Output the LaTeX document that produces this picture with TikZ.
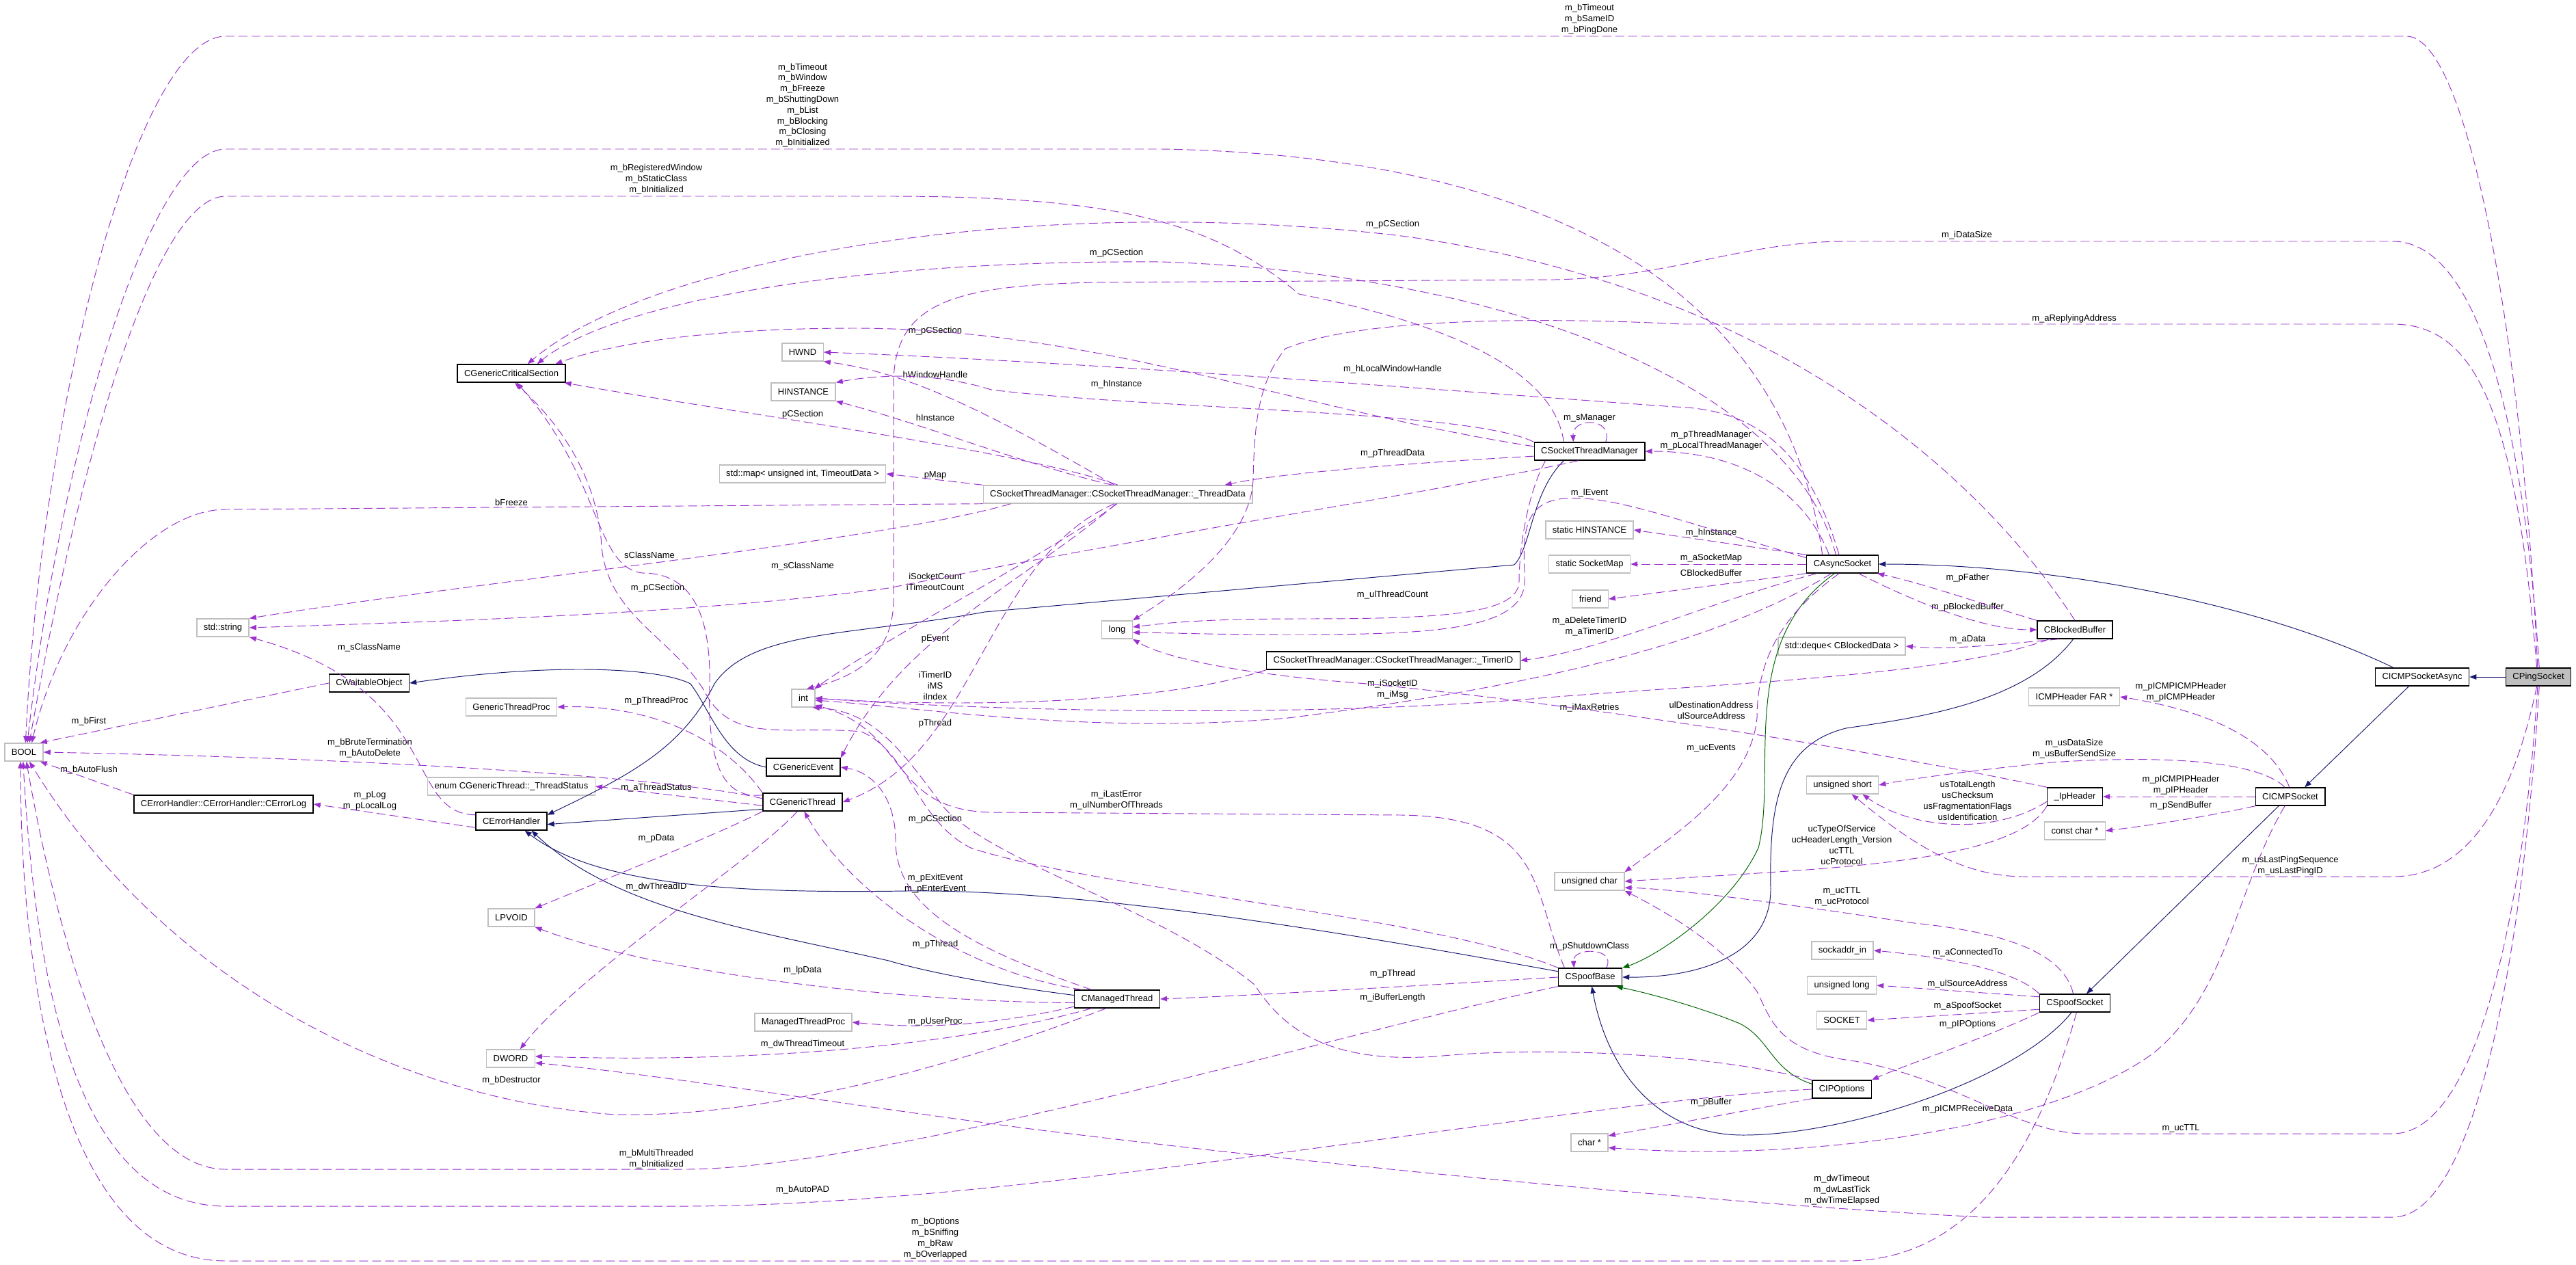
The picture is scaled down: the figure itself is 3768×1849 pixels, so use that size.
\documentclass[tikz,border=0pt]{standalone}
\usepackage{fontspec}
\setmainfont{Liberation Sans}
\usetikzlibrary{arrows.meta}
\definecolor{depc}{HTML}{9A32CD}
\definecolor{inhc}{HTML}{191970}
\definecolor{protc}{HTML}{006400}
\definecolor{grey75}{HTML}{BFBFBF}
\newcommand\doxfont{\fontsize{7.4}{9}\selectfont}
\tikzset{
  cls/.style={draw=black,line width=0.8pt,fill=white,font=\doxfont,minimum height=0.52cm,inner xsep=0.2cm,inner ysep=0pt},
  ext/.style={cls,draw=grey75},
  lbl/.style={font=\doxfont,align=center,inner sep=0pt},
  tip/.style={-{Triangle[length=0.2cm,width=0.15cm]}},
  dep/.style={tip,draw=depc,line width=0.55pt,dash pattern=on 0.26cm off 0.12cm},
  inh/.style={tip,draw=inhc,line width=0.55pt},
  prot/.style={tip,draw=protc,line width=0.55pt}
}
\begin{document}
\begin{tikzpicture}[x=0.02cm,y=-0.02cm]
\useasboundingbox (0,0) rectangle (3768,1849);
% classes
\foreach \nm/\x/\y/\t in {gcs/748/546/CGenericCriticalSection,wait/540/999/CWaitableObject,
  elog/327/1176/CErrorHandler::CErrorHandler::CErrorLog,err/748/1201/CErrorHandler,
  gev/1175/1122/CGenericEvent,gthr/1174/1173/CGenericThread,stm/2325/660/CSocketThreadManager,
  async/2695/825/CAsyncSocket,timer/2038/966/CSocketThreadManager::CSocketThreadManager::\_TimerID,
  blk/3035/921/CBlockedBuffer,icmpa/3543/990/CICMPSocketAsync,iph/3035/1165/\_IpHeader,
  icmp/3350/1165/CICMPSocket,mthr/1634/1461/CManagedThread,sbase/2326/1429/CSpoofBase,
  ipopt/2694/1593/CIPOptions,ssock/3035/1467/CSpoofSocket}
  \node[cls] (\nm) at (\x,\y) {\t};
\node[cls,fill=grey75] (ping) at (3713,990) {CPingSocket};
% types
\foreach \nm/\x/\y/\t in {bool/35/1100/BOOL,str/326/918/std::string,gtp/748/1034/GenericThreadProc,
  tstat/748/1150/enum CGenericThread::\_ThreadStatus,lpv/748/1342/LPVOID,dw/747/1548/DWORD,
  hwnd/1174/515/HWND,hinst/1175/573/HINSTANCE,map/1174/693/{std::map< unsigned int, TimeoutData >},
  tdata/1635/723/CSocketThreadManager::CSocketThreadManager::\_ThreadData,long/1634/921/long,
  int/1175/1021/int,mtp/1175/1495/ManagedThreadProc,shinst/2325/775/static HINSTANCE,
  smap/2325/825/static SocketMap,friend/2326/876/friend,deque/2694/945/{std::deque< CBlockedData >},
  ushort/2695/1148/unsigned short,uchar/2325/1289/unsigned char,saddr/2695/1390/sockaddr\_in,
  ulong/2694/1441/unsigned long,sock/2694/1492/SOCKET,chr/2325/1671/char *,
  icmph/3034/1019/ICMPHeader FAR *,cchr/3035/1215/const char *}
  \node[ext] (\nm) at (\x,\y) {\t};
% member names
\foreach \x/\y/\t [count=\i] in {2325/28/{m\_bTimeout\\m\_bSameID\\m\_bPingDone},
  1174/154/{m\_bTimeout\\m\_bWindow\\m\_bFreeze\\m\_bShuttingDown\\m\_bList\\m\_bBlocking\\m\_bClosing\\m\_bInitialized},
  960/262/{m\_bRegisteredWindow\\m\_bStaticClass\\m\_bInitialized},1633/370/m\_pCSection,2037/328/m\_pCSection,
  2877/344/m\_iDataSize,3034/466/m\_aReplyingAddress,1368/484/m\_pCSection,1368/548/hWindowHandle,
  1633/562/m\_hInstance,1174/606/pCSection,1368/611/hInstance,2037/540/m\_hLocalWindowHandle,2325/611/m\_sManager,
  1368/695/pMap,950/812/sClassName,1174/828/m\_sClassName,962/860/m\_pCSection,
  1368/851/{iSocketCount\\iTimeoutCount},1368/934/pEvent,1368/1003/{iTimerID\\iMS\\iIndex},1368/1058/pThread,
  1633/1170/{m\_iLastError\\m\_ulNumberOfThreads},1368/1198/m\_pCSection,540/947/m\_sClassName,130/1055/m\_bFirst,
  541/1094/{m\_bBruteTermination\\m\_bAutoDelete},130/1126/m\_bAutoFlush,541/1171/{m\_pLog\\m\_pLocalLog},
  960/1025/m\_pThreadProc,960/1152/m\_aThreadStatus,960/1226/m\_pData,960/1297/m\_dwThreadID,748/1580/m\_bDestructor,
  1368/1292/{m\_pExitEvent\\m\_pEnterEvent},1368/1381/m\_pThread,1174/1419/m\_lpData,1368/1494/m\_pUserProc,
  1174/1527/m\_dwThreadTimeout,960/1695/{m\_bMultiThreaded\\m\_bInitialized},1174/1740/m\_bAutoPAD,
  1368/1811/{m\_bOptions\\m\_bSniffing\\m\_bRaw\\m\_bOverlapped},2503/644/{m\_pThreadManager\\m\_pLocalThreadManager},
  2037/663/m\_pThreadData,2325/721/m\_lEvent,2503/779/m\_hInstance,2503/816/m\_aSocketMap,2503/838/CBlockedBuffer,
  2037/870/m\_ulThreadCount,2325/916/{m\_aDeleteTimerID\\m\_aTimerID},2037/1008/{m\_iSocketID\\m\_iMsg},
  2325/1035/m\_iMaxRetries,2503/1039/{ulDestinationAddress\\ulSourceAddress},2503/1094/m\_ucEvents,
  2694/1236/{ucTypeOfService\\ucHeaderLength\_Version\\ucTTL\\ucProtocol},2694/1311/{m\_ucTTL\\m\_ucProtocol},
  2325/1384/m\_pShutdownClass,2037/1424/m\_pThread,2037/1459/m\_iBufferLength,2503/1612/m\_pBuffer,
  2694/1740/{m\_dwTimeout\\m\_dwLastTick\\m\_dwTimeElapsed},2878/845/m\_pFather,2878/888/m\_pBlockedBuffer,
  2878/935/m\_aData,3190/1012/{m\_pICMPICMPHeader\\m\_pICMPHeader},3034/1095/{m\_usDataSize\\m\_usBufferSendSize},
  2878/1171/{usTotalLength\\usChecksum\\usFragmentationFlags\\usIdentification},3190/1148/{m\_pICMPIPHeader\\m\_pIPHeader},
  3190/1178/m\_pSendBuffer,3350/1266/{m\_usLastPingSequence\\m\_usLastPingID},2878/1393/m\_aConnectedTo,
  2878/1439/m\_ulSourceAddress,2878/1471/m\_aSpoofSocket,2878/1498/m\_pIPOptions,2878/1622/m\_pICMPReceiveData,
  3190/1650/m\_ucTTL,748/735/bFreeze}
  \node[lbl] (l\i) at (\x,\y) {\t};
% inheritance
\draw[inh] (ping) -- (icmpa);
\draw[inh] (icmpa.162) .. controls (3300,880) and (3000,825) .. (async.east);
\draw[inh] (icmpa.-145) -- (icmp.33);
\draw[inh] (icmp.-141) -- (ssock.39);
\draw[inh] (ssock.-110) .. controls (2950,1580) and (2700,1660) .. (2550,1660) .. controls (2420,1660) and (2350,1560) .. (sbase.-80);
\draw[prot] (async.-130) .. controls (2540,940) and (2600,1130) .. (2572,1240) .. controls (2530,1330) and (2420,1400) .. (sbase.north east);
\draw[prot] (ipopt.170) .. controls (2590,1565) and (2590,1520) .. (2545,1497) .. controls (2480,1470) and (2400,1450) .. (sbase.-20);
\draw[inh] (blk.-100) .. controls (2960,1030) and (2800,1050) .. (2700,1065) .. controls (2600,1090) and (2588,1180) .. (2590,1300) .. controls (2590,1400) and (2480,1430) .. (sbase.east);
\draw[inh] (stm.-160) .. controls (2240,720) and (2240,800) .. (2215,826) -- (1440,895) .. controls (1250,930) and (1100,920) .. (1045,1000) .. controls (1000,1090) and (930,1130) .. (err.10);
\draw[inh] (gev.west) .. controls (1060,1110) and (1040,1040) .. (1010,1000) .. controls (960,975) and (800,970) .. (wait.east);
\draw[inh] (gthr.-170) -- (err.-5);
\draw[inh] (mthr.175) .. controls (1450,1440) and (1350,1420) .. (1300,1405) .. controls (1100,1360) and (900,1330) .. (err.-25);
\draw[inh] (sbase.170) .. controls (2000,1370) and (1600,1300) .. (1326,1303) .. controls (1100,1306) and (880,1300) .. (err.-35);
% BOOL
\draw[dep] (ping.95) .. controls (3690,500) and (3610,53) .. (3520,53) -- (330,53) .. controls (200,53) and (60,600) .. (bool.80);
\draw[dep] (async.155) .. controls (2620,480) and (2350,230) .. (1700,218) -- (330,218) .. controls (220,218) and (90,650) .. (bool.70);
\draw[dep] (stm.160) .. controls (2270,520) and (2050,460) .. (1900,430) .. controls (1780,330) and (1650,287) .. (1300,287) -- (330,287) .. controls (230,287) and (120,650) .. (bool.60);
\draw[dep] (tdata.south west) -- (330,745) .. controls (220,745) and (90,900) .. (bool.50);
\draw[dep] (wait.west) -- (bool.30);
\draw[dep] (gthr.175) .. controls (1000,1140) and (600,1110) .. (bool.east);
\draw[dep] (elog.north west) -- (bool.-30);
\draw[dep] (mthr.-140) .. controls (1450,1540) and (1150,1635) .. (900,1630) .. controls (600,1610) and (250,1450) .. (bool.-60);
\draw[dep] (sbase.south west) .. controls (2000,1500) and (1300,1710) .. (1000,1710) -- (330,1710) .. controls (170,1710) and (80,1350) .. (bool.-75);
\draw[dep] (ipopt.west) .. controls (2300,1610) and (1500,1764) .. (1000,1764) -- (330,1764) .. controls (100,1764) and (50,1400) .. (bool.-95);
\draw[dep] (ssock.-80) .. controls (2990,1650) and (2900,1844) .. (2700,1844) -- (330,1844) .. controls (80,1844) and (30,1400) .. (bool.-110);
% std::string
\draw[dep] (err.170) .. controls (590,1190) and (650,1010) .. (str.south east);
\draw[dep] (tdata.-175) .. controls (1300,790) and (700,850) .. (str.north east);
\draw[dep] (stm.-140) .. controls (2100,720) and (1700,780) .. (1300,860) .. controls (1000,900) and (600,910) .. (str.east);
% CGenericCriticalSection
\draw[dep] (async.125) .. controls (2620,560) and (2200,400) .. (1700,383) .. controls (1250,380) and (900,440) .. (gcs.20);
\draw[dep] (blk.north) .. controls (2900,700) and (2600,420) .. (2050,345) .. controls (1500,280) and (950,380) .. (gcs.30);
\draw[dep] (stm.175) .. controls (1900,600) and (1600,480) .. (1250,480) .. controls (1050,480) and (900,500) .. (gcs.12);
\draw[dep] (tdata.north) .. controls (1500,660) and (1050,600) .. (gcs.-10);
\draw[dep] (gthr.170) .. controls (1050,1170) and (1035,1100) .. (1038,1000) .. controls (1040,880) and (1000,838) .. (940,838) .. controls (870,830) and (880,700) .. (gcs.-60);
\draw[dep] (sbase.north west) .. controls (2100,1340) and (1600,1300) .. (1420,1240) .. controls (1340,1200) and (1330,1100) .. (1260,1070) .. controls (1150,1060) and (1070,1090) .. (1030,1010) .. controls (980,930) and (890,900) .. (880,800) .. controls (875,700) and (820,620) .. (gcs.-70);
% CPingSocket
\draw[dep] (ping.85) .. controls (3690,600) and (3620,353) .. (3500,353) -- (2700,353) .. controls (2550,353) and (2450,405) .. (2274,409) -- (1600,413) .. controls (1400,418) and (1308,440) .. (1307,560) -- (1307,880) .. controls (1305,960) and (1250,990) .. (int.70);
\draw[dep] (ping.100) .. controls (3680,600) and (3620,474) .. (3500,474) -- (2460,474) .. controls (2300,466) and (2000,460) .. (1880,510) .. controls (1840,560) and (1835,620) .. (1833,700) .. controls (1830,800) and (1700,880) .. (long.north east);
\draw[dep] (ping.-85) .. controls (3690,1400) and (3620,1780) .. (3500,1780) -- (2900,1780) .. controls (2500,1760) and (1900,1700) .. (1500,1650) .. controls (1200,1610) and (950,1570) .. (dw.-10);
\draw[dep] (ping.-95) .. controls (3690,1350) and (3620,1658) .. (3500,1658) -- (3050,1658) .. controls (2950,1658) and (2850,1570) .. (2700,1550) .. controls (2600,1535) and (2590,1490) .. (2570,1450) .. controls (2520,1380) and (2430,1330) .. (uchar.south east);
\draw[dep] (ping.-100) .. controls (3680,1150) and (3620,1282) .. (3500,1282) -- (2960,1282) .. controls (2860,1282) and (2780,1220) .. (ushort.-45);
% _ThreadData
\draw[dep] (tdata.110) .. controls (1440,600) and (1330,545) .. (hwnd.south east);
\draw[dep] (tdata.120) .. controls (1500,680) and (1350,620) .. (hinst.south east);
\draw[dep] (tdata.north west) -- (map.east);
\draw[dep] (tdata.-95) .. controls (1550,800) and (1300,930) .. (int.40);
\draw[dep] (tdata.-100) .. controls (1500,850) and (1320,930) .. (gev.north east);
\draw[dep] (tdata.-110) .. controls (1440,820) and (1430,1100) .. (gthr.east);
\draw[dep] (timer.south west) .. controls (1700,1030) and (1400,1035) .. (int.east);
% CSocketThreadManager
\draw[dep] (stm.north west) .. controls (2150,600) and (1700,600) .. (1450,570) .. controls (1380,548) and (1300,545) .. (hinst.north east);
\draw[dep] (stm.30) .. controls (2360,610) and (2300,610) .. (stm.150);
\draw[dep] (stm.-175) .. controls (2100,675) and (1880,690) .. (tdata.5);
\draw[dep] (stm.-168) .. controls (2235,720) and (2222,800) .. (2222,850) .. controls (2222,900) and (2100,905) .. (1900,905) .. controls (1750,905) and (1700,912) .. (long.10);
% CAsyncSocket
\draw[dep] (async.110) .. controls (2640,640) and (2550,598) .. (2450,595) .. controls (2100,570) and (1600,530) .. (hwnd.east);
\draw[dep] (async.145) .. controls (2640,720) and (2550,660) .. (stm.east);
\draw[dep] (async.170) .. controls (2450,760) and (2350,720) .. (2280,730) .. controls (2220,740) and (2230,800) .. (2230,850) .. controls (2230,920) and (2100,928) .. (1900,928) .. controls (1750,928) and (1700,925) .. (long.-10);
\draw[dep] (async.north west) -- (shinst.east);
\draw[dep] (async.west) -- (smap.east);
\draw[dep] (async.south west) -- (friend.east);
\draw[dep] (async.-160) .. controls (2500,880) and (2350,950) .. (timer.east);
\draw[dep] (async.-140) .. controls (2500,950) and (2200,1010) .. (1884,1050) .. controls (1600,1075) and (1350,1035) .. (int.-10);
\draw[dep] (async.-110) .. controls (2620,890) and (2570,950) .. (2570,1050) .. controls (2560,1150) and (2450,1220) .. (uchar.north east);
\draw[dep] (async.-30) .. controls (2800,880) and (2900,921) .. (blk.west);
% CBlockedBuffer
\draw[dep] (blk.north west) .. controls (2920,890) and (2820,855) .. (async.-15);
\draw[dep] (blk.-150) .. controls (2900,945) and (2850,950) .. (deque.east);
\draw[dep] (blk.-160) .. controls (2850,990) and (2500,1000) .. (2240,1022) .. controls (1900,1050) and (1450,1040) .. (int.east);
% _IpHeader
\draw[dep] (iph.north west) .. controls (2800,1110) and (2400,1040) .. (2000,1000) .. controls (1800,985) and (1700,960) .. (long.south east);
\draw[dep] (iph.-170) .. controls (2920,1220) and (2800,1215) .. (ushort.-25);
\draw[dep] (iph.south west) .. controls (2960,1240) and (2800,1262) .. (2600,1275) .. controls (2500,1282) and (2420,1286) .. (uchar.east);
% CErrorHandler, CGenericThread, CManagedThread
\draw[dep] (err.-170) -- (elog.east);
\draw[dep] (gthr.north west) .. controls (1060,1080) and (950,1030) .. (gtp.east);
\draw[dep] (gthr.-175) -- (tstat.east);
\draw[dep] (gthr.south west) .. controls (1050,1220) and (900,1280) .. (lpv.north east);
\draw[dep] (gthr.-120) .. controls (1100,1260) and (850,1420) .. (dw.45);
\draw[dep] (mthr.160) .. controls (1400,1380) and (1310,1320) .. (1310,1230) .. controls (1310,1170) and (1280,1130) .. (gev.east);
\draw[dep] (mthr.165) .. controls (1400,1420) and (1240,1300) .. (gthr.-80);
\draw[dep] (mthr.-175) .. controls (1300,1465) and (950,1420) .. (lpv.south east);
\draw[dep] (mthr.-170) .. controls (1450,1500) and (1350,1505) .. (mtp.east);
\draw[dep] (mthr.-160) .. controls (1400,1530) and (1100,1555) .. (dw.5);
% CSpoofBase, CIPOptions
\draw[dep] (sbase.30) .. controls (2365,1385) and (2300,1385) .. (sbase.150);
\draw[dep] (sbase.160) .. controls (2240,1300) and (2260,1195) .. (2050,1192) -- (1450,1188) .. controls (1300,1185) and (1330,1070) .. (int.-30);
\draw[dep] (sbase.west) .. controls (2100,1440) and (1850,1455) .. (mthr.east);
\draw[dep] (ipopt.north west) .. controls (2500,1540) and (2250,1530) .. (2100,1545) .. controls (1950,1555) and (1880,1510) .. (1835,1440) .. controls (1700,1330) and (1450,1260) .. (1380,1180) .. controls (1320,1100) and (1280,1040) .. (int.-45);
\draw[dep] (ipopt.south west) -- (chr.20);
% CICMPSocket
\draw[dep] (icmp.95) .. controls (3320,1080) and (3230,1040) .. (icmph.east);
\draw[dep] (icmp.120) .. controls (3300,1110) and (3150,1105) .. (3000,1115) .. controls (2900,1125) and (2800,1138) .. (ushort.east);
\draw[dep] (icmp.west) -- (iph.east);
\draw[dep] (icmp.-165) .. controls (3200,1200) and (3120,1210) .. (cchr.east);
\draw[dep] (icmp.-120) .. controls (3270,1300) and (3260,1450) .. (3150,1540) .. controls (3000,1650) and (2650,1700) .. (chr.-15);
% CSpoofSocket
\draw[dep] (ssock.100) .. controls (3020,1400) and (2950,1365) .. (2800,1350) .. controls (2600,1320) and (2450,1300) .. (uchar.-10);
\draw[dep] (ssock.north west) .. controls (2950,1420) and (2850,1400) .. (saddr.east);
\draw[dep] (ssock.170) -- (ulong.east);
\draw[dep] (ssock.-170) -- (sock.east);
\draw[dep] (ssock.south west) .. controls (2900,1520) and (2780,1560) .. (ipopt.north east);
\end{tikzpicture}
\end{document}
